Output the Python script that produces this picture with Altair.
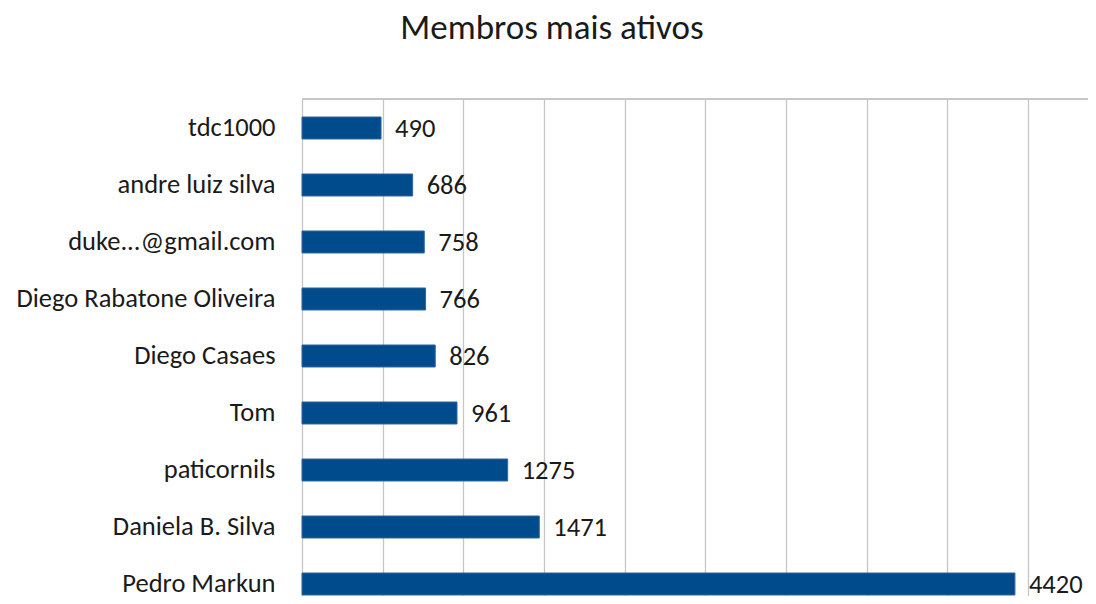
import altair as alt
import pandas as pd

names = ["tdc1000", "andre luiz silva", "duke...@gmail.com", "Diego Rabatone Oliveira",
         "Diego Casaes", "Tom", "paticornils", "Daniela B. Silva", "Pedro Markun"]
values = [490, 686, 758, 766, 826, 961, 1275, 1471, 4420]
grid_values = [0, 500, 1000, 1500, 2000, 2500, 3000, 3500, 4000, 4500]

df = pd.DataFrame({"name": names, "value": values})

FONT = "Carlito, Open Sans"

x = alt.X("value:Q",
          scale=alt.Scale(domain=[0, 4873], nice=False, zero=True),
          axis=alt.Axis(values=grid_values, labels=False, ticks=False, domain=False,
                        title=None, grid=True, gridColor="#c6c6c6", gridWidth=1.3))
y = alt.Y("name:N", sort=names,
          scale=alt.Scale(paddingInner=0.614, paddingOuter=0.1667, align=0.947),
          axis=alt.Axis(title=None, ticks=False, domain=False, labelFontSize=26.5,
                        labelColor="#1a1a1a", labelPadding=27, labelFont=FONT,
                        labelLimit=400))

bars = alt.Chart(df).mark_bar(color="#004b8c", stroke="#2f679f", strokeWidth=1).encode(x=x, y=y)
text = alt.Chart(df).mark_text(align="left", baseline="middle", dx=14, dy=1,
                               fontSize=26.5, font=FONT, color="#1a1a1a").encode(
    x="value:Q", y=alt.Y("name:N", sort=names), text="value:Q")
top_line = alt.Chart(df).mark_rule(color="#c6c6c6", strokeWidth=1.3).encode(
    y=alt.value(0), x=alt.value(0), x2=alt.value(786))

chart = alt.layer(top_line, bars, text).properties(
    width=786, height=497,
    title=alt.TitleParams("Membros mais ativos", fontSize=35, font=FONT, fontWeight="normal",
                          color="#1a1a1a", anchor="middle", dx=-143, offset=52),
    autosize=alt.AutoSizeParams(type="none"),
    padding={"left": 294, "top": 91, "right": 0, "bottom": 0},
).configure_view(strokeWidth=0)

chart.save("out.html", embed_options={"renderer": "svg", "actions": False})
